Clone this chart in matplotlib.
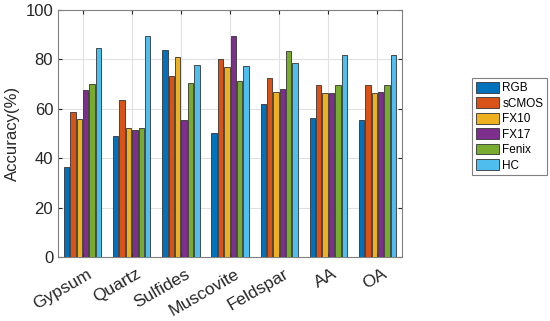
import numpy as np
import matplotlib.pyplot as plt
import matplotlib.transforms as mtransforms

plt.rcParams['font.family'] = ['Liberation Sans', 'DejaVu Sans']

categories = ['Gypsum', 'Quartz', 'Sulfides', 'Muscovite', 'Feldspar', 'AA', 'OA']
series = ['RGB', 'sCMOS', 'FX10', 'FX17', 'Fenix', 'HC']

rgb = [36.6, 49.0, 83.7, 50.3, 61.8, 56.2, 55.6]
scmos = [58.6, 63.7, 73.4, 80.3, 72.6, 69.8, 69.5]
fx10 = [55.7, 52.3, 80.8, 76.8, 66.9, 66.4, 66.4]
fx17 = [67.7, 51.4, 55.5, 89.5, 68.1, 66.4, 66.9]
fenix = [69.9, 52.3, 70.3, 71.1, 83.4, 69.5, 69.5]
hc = [84.7, 89.5, 77.7, 77.5, 78.5, 81.7, 81.7]

colors = ['#0072BD', '#D95319', '#EDB120', '#7E2F8E', '#77AC30', '#4DBEEE']

fig = plt.figure(figsize=(5.5, 3.21), dpi=100)
ax = fig.add_axes([0.1055, 0.199, 0.6255, 0.77])

x = np.arange(1, len(categories) + 1)
step = 0.13
width = 0.11
for i, (name, vals) in enumerate(zip(series, [rgb, scmos, fx10, fx17, fenix, hc])):
    offset = (i - 2.5) * step
    ax.bar(x + offset, vals, width, color=colors[i], edgecolor='#333333',
           linewidth=0.6, label=name, zorder=3)

ax.set_xlim(0.5, 7.5)
ax.set_ylim(0, 100)
ax.set_yticks(np.arange(0, 101, 20))
ax.set_xticks(x)
ax.set_xticklabels([])
# rotated category labels, anchored a little right of and below each tick
shift = mtransforms.ScaledTranslation(4 / 100, -9 / 100, fig.dpi_scale_trans)
trans = ax.get_xaxis_transform() + shift
for xi, name in zip(x, categories):
    ax.text(xi, 0, name, transform=trans, rotation=30, ha='right', va='top',
            rotation_mode='anchor', fontsize=12.5, color='#262626')
ax.tick_params(axis='y', labelsize=12, labelcolor='#262626')
ax.tick_params(direction='in', length=3, color='#262626', top=True, right=True)
ax.set_ylabel('Accuracy(%)', fontsize=12, color='#262626')
ax.grid(True, color='#e0e0e0', linewidth=0.8, zorder=0)
ax.set_axisbelow(True)
for s in ax.spines.values():
    s.set_color('#808080')
    s.set_linewidth(0.8)

leg = ax.legend(loc='center left', bbox_to_anchor=(1.204, 0.528), fontsize=8.5,
                handlelength=2.0, handleheight=1.05, handletextpad=0.25,
                labelspacing=0.25, borderpad=0.3, borderaxespad=0,
                fancybox=False, edgecolor='#808080', framealpha=1)
leg.get_frame().set_linewidth(0.8)

fig.savefig('out.png', dpi=100)
